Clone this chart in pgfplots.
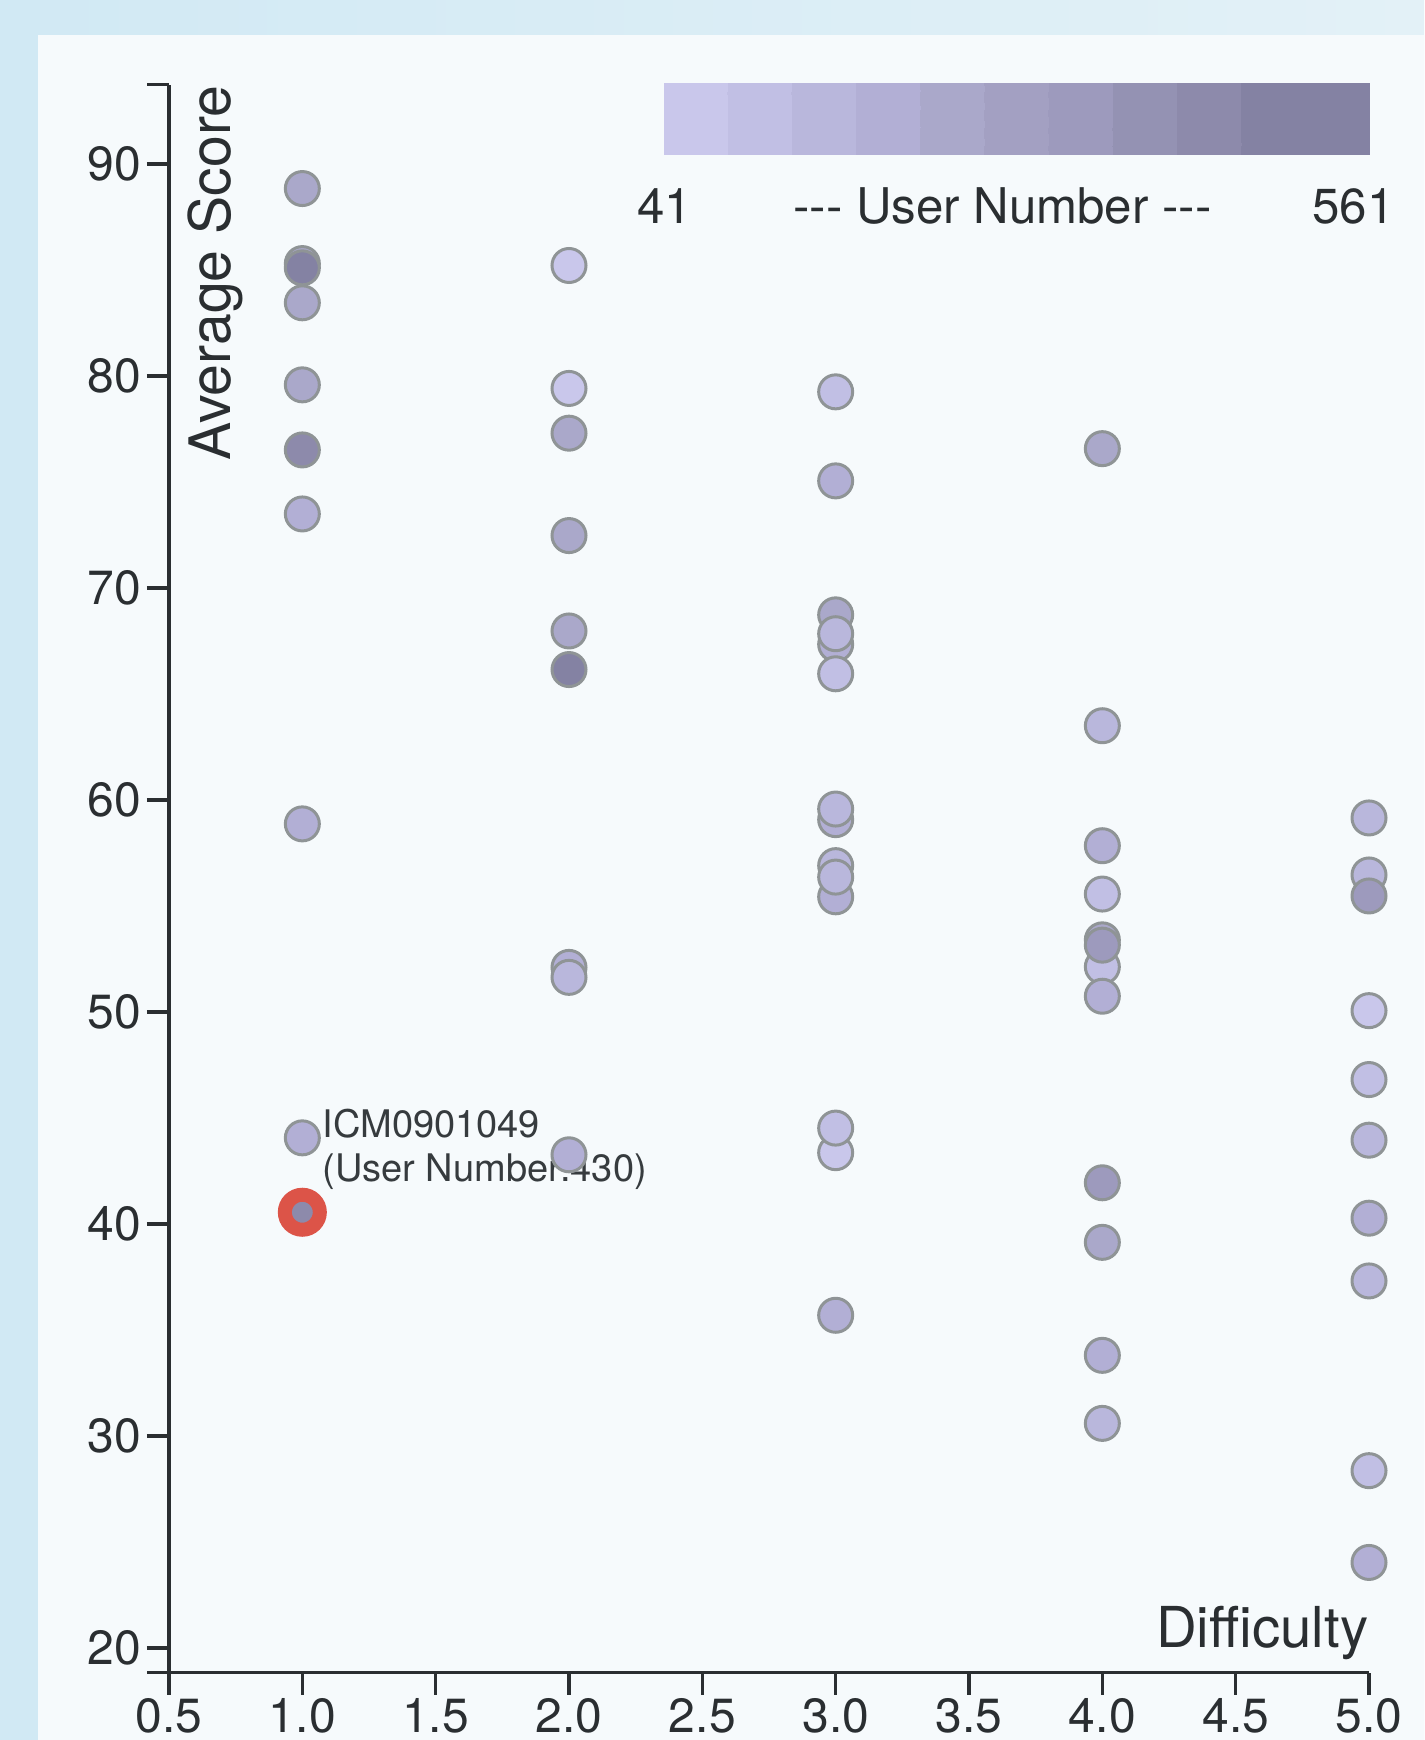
\documentclass[border=0pt]{standalone}
\usepackage{pgfplots}
\pgfplotsset{compat=1.18}
\usepackage{fontspec}
\setmainfont{TeX Gyre Heros}
\definecolor{axisgray}{HTML}{2A2E31}
\definecolor{ptstroke}{HTML}{8F9496}
\definecolor{hlred}{HTML}{DC5448}
\definecolor{labelgray}{HTML}{363B3E}
\definecolor{outerbgL}{HTML}{D1E9F4}
\definecolor{outerbgR}{HTML}{E3F1F7}
\definecolor{cardbg}{HTML}{F6FAFC}

\pgfplotstableread{
x y m
1 88.84 275
1 85.30 275
1 85.10 535
1 83.45 275
1 79.58 275
1 76.51 431
1 73.49 223
1 58.87 223
1 44.06 223
2 85.21 67
2 79.41 67
2 77.30 275
2 72.47 275
2 67.97 275
2 66.15 535
2 52.10 223
2 51.63 171
2 43.26 223
3 79.25 119
3 75.05 223
3 68.73 275
3 67.34 223
3 67.84 171
3 65.95 119
3 59.07 223
3 59.57 171
3 56.90 171
3 55.43 223
3 56.36 171
3 43.36 67
3 44.52 119
3 35.69 223
4 76.57 275
4 63.50 171
4 57.84 223
4 55.56 119
4 52.13 119
4 53.40 275
4 53.15 327
4 50.74 223
4 41.94 327
4 39.13 275
4 33.80 223
4 30.59 171
5 59.15 171
5 56.46 171
5 55.47 327
5 50.06 67
5 46.81 119
5 43.95 171
5 40.27 223
5 37.31 171
5 28.36 119
5 24.03 223
}\scoredata

\begin{document}
\begin{tikzpicture}
\shade[left color=outerbgL, right color=outerbgR] (-42.25pt,-16.825pt) rectangle (313.75pt,418.175pt);
\fill[cardbg] (-32.75pt,-16.825pt) rectangle (313.75pt,409.4pt);
\begin{axis}[
  scale only axis, width=300pt, height=397pt,
  xmin=0.5, xmax=5, ymin=18.83, ymax=93.74,
  axis lines*=left,
  axis line style={-, line width=0.85pt, draw=axisgray},
  tick align=outside, major tick length=5.5pt,
  tick style={line width=0.85pt, draw=axisgray},
  xtick={0.5,1,1.5,2,2.5,3,3.5,4,4.5,5},
  ytick={20,30,40,50,60,70,80,90},
  /pgf/number format/assume math mode=true,
  ticklabel style={font=\fontsize{12}{14}\selectfont, text=axisgray},
  yticklabel style={xshift=2pt},
  xticklabel style={yshift=2.7pt, /pgf/number format/fixed, /pgf/number format/fixed zerofill, /pgf/number format/precision=1},
  clip=false,
  colormap={users}{rgb255=(201,199,235) rgb255=(193,191,228) rgb255=(185,183,220) rgb255=(178,175,213) rgb255=(170,168,202) rgb255=(163,160,194) rgb255=(157,154,189) rgb255=(148,146,179) rgb255=(141,138,171) rgb255=(132,130,163) rgb255=(132,130,163)},
  colormap access=piecewise constant,
  point meta min=41, point meta max=561,
  colorbar horizontal,
  colorbar style={at={(parent axis.north east)}, anchor=north east, yshift=8.9pt,
    scale only axis, width=176.4pt, height=17.7pt, hide axis,
    xtick=\empty, ytick=\empty},
]
\node[anchor=base west, inner sep=0pt, font=\fontsize{9.5}{11}\selectfont, text=labelgray] at (axis cs:1.0726,44.08) {ICM0901049};
\node[anchor=base west, inner sep=0pt, font=\fontsize{9.5}{11}\selectfont, text=labelgray] at (axis cs:1.0726,42.02) {(User Number:430)};

\addplot[scatter, only marks, mark=*, mark size=4.25pt, line width=0.75pt,
  scatter/use mapped color={draw=ptstroke, fill=mapped color},
  point meta=explicit] table[x=x, y=y, meta=m] {\scoredata};

\addplot[scatter, only marks, mark=*, mark size=4.375pt, line width=3.5pt,
  scatter/use mapped color={draw=hlred, fill=mapped color},
  point meta=explicit] coordinates {(1,40.55) [430]};

\draw[axisgray, line width=0.85pt] (rel axis cs:0,1) -- ++(-5.5pt,0pt);
\draw[axisgray, line width=0.85pt] (rel axis cs:0,0) -- ++(-5.5pt,0pt);

\node[rotate=90, anchor=north east, inner sep=0pt, font=\fontsize{14.3}{17}\selectfont, text=axisgray] at ([xshift=4.5pt]rel axis cs:0,1) {Average Score};
\node[anchor=base east, inner sep=0pt, font=\fontsize{14.1}{17}\selectfont, text=axisgray] at ([yshift=6.2pt]rel axis cs:1,0) {Difficulty};

\node[anchor=base, inner sep=0pt, font=\fontsize{12.3}{14}\selectfont, text=axisgray] at (rel axis cs:0.4129,0.9123) {41};
\node[anchor=base, inner sep=0pt, font=\fontsize{12.3}{14}\selectfont, text=axisgray] at (rel axis cs:0.6945,0.9123) {-{}-{}- User Number -{}-{}-};
\node[anchor=base, inner sep=0pt, font=\fontsize{12.3}{14}\selectfont, text=axisgray] at (rel axis cs:0.987,0.9123) {561};
\end{axis}
\pgfresetboundingbox
\path[use as bounding box] (-42.25pt,-16.825pt) rectangle (313.75pt,418.175pt);
\end{tikzpicture}
\end{document}
